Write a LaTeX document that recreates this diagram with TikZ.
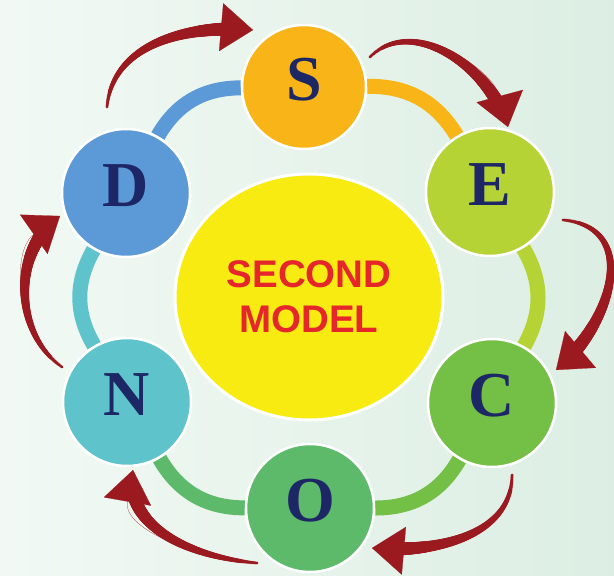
\documentclass[tikz,border=0pt]{standalone}
\usepackage{fontspec}
\setmainfont{Liberation Serif}
\setsansfont{Liberation Sans}
\usetikzlibrary{arrows.meta,decorations.markings,shapes.geometric,backgrounds}
\definecolor{sorange}{HTML}{F9B418}
\definecolor{egreen}{HTML}{B5D335}
\definecolor{cgreen}{HTML}{74BF45}
\definecolor{ogreen}{HTML}{5CBA6A}
\definecolor{nteal}{HTML}{5EC3CB}
\definecolor{dblue}{HTML}{5C9AD7}
\definecolor{coreyellow}{HTML}{F8EB12}
\definecolor{titlered}{HTML}{E5262B}
\definecolor{letternavy}{HTML}{1E2766}
\definecolor{arrowred}{HTML}{9B1A20}
\definecolor{bgleft}{HTML}{F2F9F4}
\definecolor{bgright}{HTML}{DCEEE3}
\begin{document}
\begin{tikzpicture}[
		x=1pt, y=1pt,
		stage/.style={circle, draw=white, line width=2.5pt, minimum size=128pt, inner sep=0pt,
				text=letternavy, font=\bfseries\fontsize{64}{64}\selectfont,
				text height=42pt, text depth=14pt},
		ring/.style={line width=15pt},
		turn/.style={draw=arrowred, line width=0.2pt, -{Triangle[width=48pt,length=32pt]},
				postaction={decorate, decoration={markings,
						mark=between positions 0 and -24pt step 1pt with {\pgfmathsetmacro\tw{1.5+6*\pgfkeysvalueof{/pgf/decoration/mark info/distance from start}/\pgfdecoratedpathlength}\fill[arrowred] (0,0) circle (\tw pt);}}}}
	]
	\useasboundingbox (0,0) rectangle (614,576);

	\node[ellipse, draw=white, line width=3pt, fill=coreyellow, minimum width=268pt, minimum height=246pt,
		text=titlered, align=center, font=\sffamily\bfseries\fontsize{38.5}{45}\selectfont] (core) at (309,279) {SECOND\\MODEL};

	\node[stage, fill=sorange, minimum size=124pt] (s) at (304,489) {S};
	\node[stage, fill=egreen] (e) at (490,384) {E};
	\node[stage, fill=cgreen] (c) at (492,173) {C};
	\node[stage, fill=ogreen] (o) at (310,68) {O};
	\node[stage, fill=nteal] (n) at (127,174) {N};
	\node[stage, fill=dblue] (d) at (126,383) {D};

	\begin{scope}[on background layer]
		\shade[left color=bgleft, right color=bgright] (0,0) rectangle (614,576);
		\draw[ring, dblue] (d) to[bend left=30] (s);
		\draw[ring, sorange] (s) to[bend left=30] (e);
		\draw[ring, egreen] (e) to[bend left=30] (c);
		\draw[ring, cgreen] (c) to[bend left=30] (o);
		\draw[ring, ogreen] (o) to[bend left=30] (n);
		\draw[ring, nteal] (n) to[bend left=30] (d);
	\end{scope}

	\coordinate (ds0) at (107,469);
	\coordinate (ds1) at (253,546);
	\coordinate (se0) at (370,519);
	\coordinate (se1) at (508,449);
	\coordinate (ec0) at (563,356);
	\coordinate (ec1) at (556,206);
	\coordinate (co0) at (512,101);
	\coordinate (co1) at (372,28);
	\coordinate (on0) at (257,13);
	\coordinate (on1) at (133,106);
	\coordinate (nd0) at (62,209);
	\coordinate (nd1) at (60,360);

	\path[turn] (ds0) to[out=85, in=175] (ds1);
	\path[turn] (se0) to[out=45, in=105] (se1);
	\path[turn] (ec0) to[out=-5, in=40, looseness=1.3] (ec1);
	\path[turn] (co0) to[out=-90, in=-5] (co1);
	\path[turn] (on0) to[out=175, in=-100] (on1);
	\path[turn] (nd0) to[out=145, in=215] (nd1);
\end{tikzpicture}
\end{document}
